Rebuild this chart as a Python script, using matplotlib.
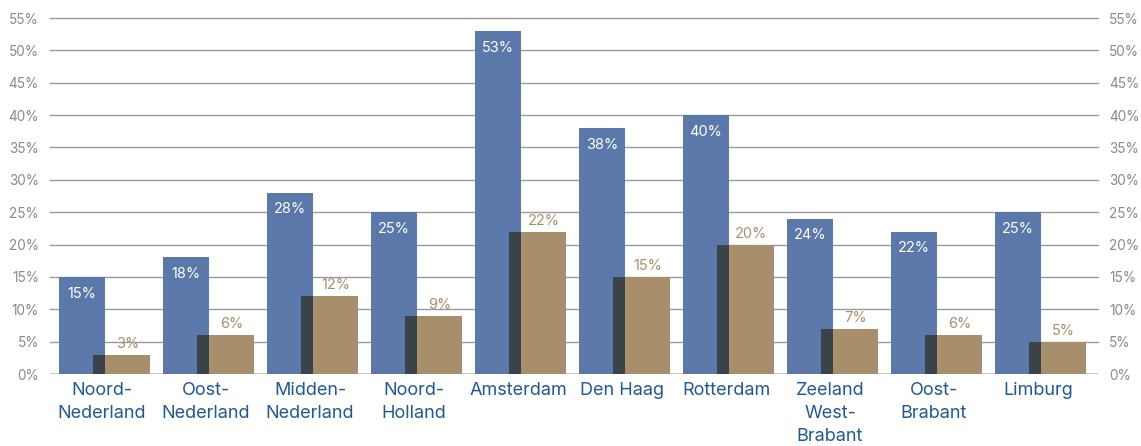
import matplotlib
matplotlib.use("Agg")
import matplotlib.pyplot as plt
import numpy as np

regions = ["Noord-\nNederland", "Oost-\nNederland", "Midden-\nNederland", "Noord-\nHolland",
           "Amsterdam", "Den Haag", "Rotterdam", "Zeeland\nWest-\nBrabant", "Oost-\nBrabant", "Limburg"]
series_a = [15, 18, 28, 25, 53, 38, 40, 24, 22, 25]
series_b = [3, 6, 12, 9, 22, 15, 20, 7, 6, 5]
y_ticks = [0, 5, 10, 15, 20, 25, 30, 35, 40, 45, 50, 55]

BLUE = "#5a78aa"
BROWN = "#a68f6a"
DARK = "#3a4347"
LABEL_BLUE = "#1f5a94"
GREY_TXT = "#8a8a8a"

plt.rcParams["font.family"] = ["Inter", "DejaVu Sans"]

fig = plt.figure(figsize=(11.41, 4.46), dpi=100)
ax = fig.add_axes([50 / 1141, 72 / 446, 1048 / 1141, 356 / 446])

x = np.arange(len(regions))
a_off, a_w = 0.0865, 0.442
b_off, b_w = 0.413, 0.548
ov_w = a_off + a_w - b_off
b_label_x = (a_off + a_w + b_off + b_w) / 2  # centre of the uncovered part

for yv in y_ticks[1:]:
    ax.axhline(yv, color="#9a9a9a", lw=1.0, zorder=0, clip_on=False)
ax.axhline(0, color="#c4c4c4", lw=2.0, zorder=0.5)

ax.bar(x + a_off, series_a, width=a_w, align="edge", color=BLUE, zorder=2)
ax.bar(x + b_off, series_b, width=b_w, align="edge", color=BROWN, zorder=3)
ax.bar(x + b_off, np.minimum(series_a, series_b), width=ov_w, align="edge", color=DARK, zorder=4)

for xi, va, vb in zip(x, series_a, series_b):
    ax.text(xi + a_off + a_w / 2, va - 1.5, f"{va}%", ha="center", va="top",
            color="white", fontsize=10.5, zorder=5)
    ax.text(xi + b_label_x, vb + 0.6, f"{vb}%", ha="center", va="bottom",
            color=BROWN, fontsize=10.5, zorder=5)

ax.set_xlim(0, 1048 / 104)
ax.set_ylim(0, 55)
ax.set_yticks(y_ticks)
ax.set_yticklabels([f"{v}%" for v in y_ticks])
ax.tick_params(axis="y", length=0, pad=8, labelsize=9.8, labelcolor=GREY_TXT,
               left=True, right=True, labelleft=True, labelright=True)
ax.set_xticks(x + 0.5)
ax.set_xticklabels(regions, color=LABEL_BLUE, fontsize=13, linespacing=1.45, va="top")
ax.tick_params(axis="x", length=0, pad=6)
for s in ax.spines.values():
    s.set_visible(False)

fig.savefig("out.png", dpi=100)
